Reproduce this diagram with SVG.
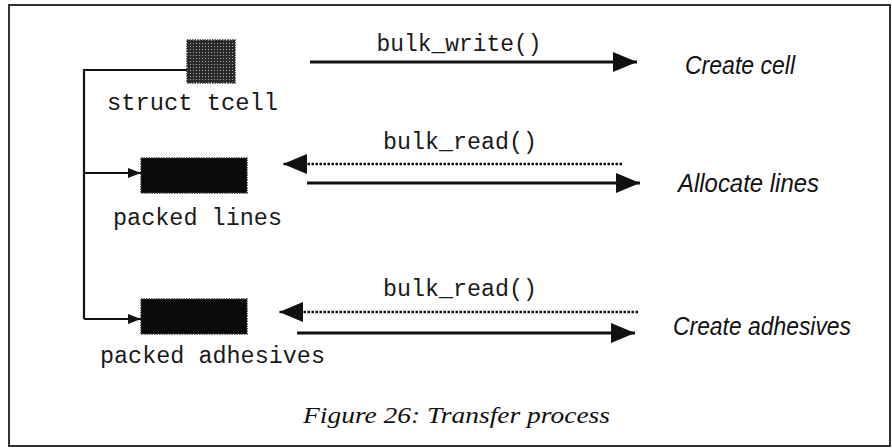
<svg xmlns="http://www.w3.org/2000/svg" width="892" height="448" viewBox="0 0 892 448">
<style>
.mono{font-family:"Liberation Mono","Courier New",monospace;font-size:23.5px;fill:#1a1a1a}
.act{font-family:"Liberation Sans",Arial,sans-serif;font-style:italic;font-size:25px;fill:#111}
.cap{font-family:"Liberation Serif","Times New Roman",serif;font-style:italic;font-size:23px;fill:#111}
.solid{stroke:#111;stroke-width:3;fill:none}
.dot{stroke:#111;stroke-width:2.5;fill:none;stroke-dasharray:2.5 1.5}
.tree{stroke:#111;stroke-width:2.2;fill:none}
</style>
<defs>
<marker id="big" markerUnits="userSpaceOnUse" markerWidth="26" markerHeight="22" refX="24" refY="10" orient="auto">
<path d="M0,0 L24,10 L0,20 Z" fill="#111"/>
</marker>
<marker id="small" markerUnits="userSpaceOnUse" markerWidth="14" markerHeight="12" refX="13" refY="5" orient="auto">
<path d="M0,0 L13,5 L0,10 Z" fill="#111"/>
</marker>
<pattern id="hatch" width="3" height="3" patternUnits="userSpaceOnUse">
<rect width="3" height="3" fill="#2a2a2a"/>
<rect x="1" y="1" width="1" height="1" fill="#aaa"/>
</pattern>
</defs>
<rect x="9" y="5" width="881" height="441" fill="#fff" stroke="#333" stroke-width="2"/>

<g id="struct-tcell">
<rect x="187" y="40" width="48" height="43" fill="url(#hatch)" stroke="#333" stroke-width="1.5" stroke-dasharray="1.5 1"/>
<text class="mono" x="107" y="110" textLength="171" lengthAdjust="spacingAndGlyphs">struct tcell</text>
</g>
<g id="packed-lines">
<rect x="141" y="158" width="106" height="35" fill="#0a0a0a" stroke="#333" stroke-width="1.5" stroke-dasharray="1.5 1"/>
<text class="mono" x="113" y="225" textLength="169" lengthAdjust="spacingAndGlyphs">packed lines</text>
</g>
<g id="packed-adhesives">
<rect x="141" y="299" width="106" height="35" fill="#0a0a0a" stroke="#333" stroke-width="1.5" stroke-dasharray="1.5 1"/>
<text class="mono" x="100" y="363" textLength="225" lengthAdjust="spacingAndGlyphs">packed adhesives</text>
</g>
<g id="create-cell"><text class="act" x="685" y="74" textLength="110" lengthAdjust="spacingAndGlyphs">Create cell</text></g>
<g id="allocate-lines"><text class="act" x="678" y="192" textLength="141" lengthAdjust="spacingAndGlyphs">Allocate lines</text></g>
<g id="create-adhesives"><text class="act" x="673" y="335" textLength="178" lengthAdjust="spacingAndGlyphs">Create adhesives</text></g>

<g id="connectors">
<path class="tree" d="M187,70 H84 V319"/>
<path class="tree" d="M84,173 H141" marker-end="url(#small)"/>
<path class="tree" d="M84,319 H141" marker-end="url(#small)"/>
<path class="solid" d="M310,62 H637" marker-end="url(#big)"/>
<text class="mono" x="459" y="51" text-anchor="middle" textLength="165" lengthAdjust="spacingAndGlyphs">bulk_write()</text>
<path class="dot" d="M622,164 H283" marker-end="url(#big)"/>
<text class="mono" x="460" y="149" text-anchor="middle" textLength="154" lengthAdjust="spacingAndGlyphs">bulk_read()</text>
<path class="solid" d="M307,183 H640" marker-end="url(#big)"/>
<path class="dot" d="M638,312 H279" marker-end="url(#big)"/>
<text class="mono" x="460" y="296" text-anchor="middle" textLength="154" lengthAdjust="spacingAndGlyphs">bulk_read()</text>
<path class="solid" d="M297,333 H635" marker-end="url(#big)"/>
</g>
<text class="cap" x="303" y="423" textLength="307" lengthAdjust="spacingAndGlyphs">Figure 26: Transfer process</text>
</svg>
